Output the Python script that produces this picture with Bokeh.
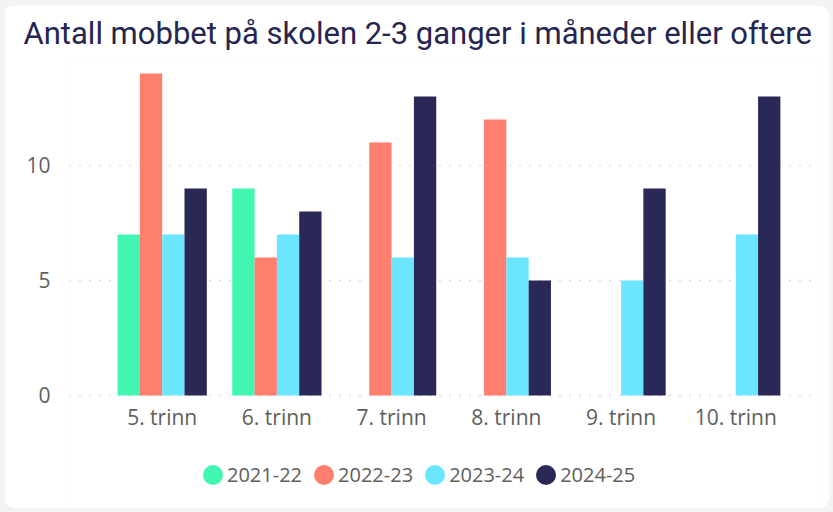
from bokeh.plotting import figure
from bokeh.models import ColumnDataSource, Range1d, FixedTicker, Legend, LegendItem
from bokeh.core.properties import value
from bokeh.transform import dodge
from bokeh.embed import file_html
from bokeh.resources import INLINE

nan = float("nan")

title_text = "Antall mobbet på skolen 2-3 ganger i måneder eller oftere"
categories = ["5. trinn", "6. trinn", "7. trinn", "8. trinn", "9. trinn", "10. trinn"]
series = ["2021-22", "2022-23", "2023-24", "2024-25"]
v_2021_22 = [7, 9, nan, nan, nan, nan]
v_2022_23 = [14, 6, 11, 12, nan, nan]
v_2023_24 = [7, 7, 6, 6, 5, 7]
v_2024_25 = [9, 8, 13, 5, 9, 13]
y_ticks = [0, 5, 10]

colors = ["#42F5B0", "#FF7F6F", "#6CE6FE", "#2A2857"]
values = [v_2021_22, v_2022_23, v_2023_24, v_2024_25]

idx = list(range(len(categories)))
data = {"x": idx, "cat": categories, "base": [0] * len(categories)}
for s, v in zip(series, values):
    data[s] = v
source = ColumnDataSource(data)

p = figure(width=825, height=503, output_backend="svg", toolbar_location=None,
           x_range=Range1d(-0.808, 5.73), y_range=Range1d(-4.913, 14.652),
           min_border_left=65, min_border_right=10, min_border_top=53, min_border_bottom=0)
p.background_fill_color = "white"
p.border_fill_color = "white"
p.outline_line_color = None
p.styles = {"border-radius": "10px", "overflow": "hidden"}

p.title.text = title_text
p.title.text_font = "Roboto"
p.title.text_font_size = "31px"
p.title.text_font_style = "normal"
p.title.text_color = "#252550"
p.title.align = "left"
p.title.vertical_align = "top"
p.title.offset = -46

w = 0.1945
offsets = [-1.5 * w, -0.5 * w, 0.5 * w, 1.5 * w]
for s, c, off in zip(series, colors, offsets):
    p.vbar(x=dodge("x", off, range=p.x_range), top=s, width=w, bottom=0,
           source=source, fill_color=c, line_color=None)

# category labels under the bars
p.text(x="x", y="base", text="cat", source=source, y_offset=22,
       text_align="center", text_baseline="middle",
       text_font=value("Open Sans"), text_font_size="21px", text_color="#605E5C")

items = []
for s, c in zip(series, colors):
    r = p.ellipse(x=[nan], y=[nan], width=20, height=20,
                  width_units="screen", height_units="screen",
                  fill_color=c, line_color=None)
    items.append(LegendItem(label=s, renderers=[r]))

legend = Legend(items=items, orientation="horizontal", location=(131, 20))
legend.glyph_width = 25
legend.glyph_height = 25
legend.label_standoff = 2
legend.spacing = 9
legend.padding = 0
legend.margin = 0
legend.border_line_color = None
legend.background_fill_alpha = 0
legend.label_text_font = "Open Sans"
legend.label_text_font_size = "20px"
legend.label_text_color = "#605E5C"
p.add_layout(legend, "center")

p.xaxis.visible = False
p.yaxis.ticker = FixedTicker(ticks=y_ticks)
ax = p.yaxis[0]
ax.axis_line_color = None
ax.major_tick_line_color = None
ax.minor_tick_line_color = None
ax.major_label_text_font = "Open Sans"
ax.major_label_text_font_size = "21px"
ax.major_label_text_color = "#605E5C"
ax.major_label_standoff = 13

p.xgrid.grid_line_color = None
p.ygrid.ticker = FixedTicker(ticks=y_ticks)
p.ygrid.grid_line_color = "#B8B8B8"
p.ygrid.grid_line_dash = "1 9"
p.ygrid.grid_line_width = 1.5

html = file_html(p, INLINE)
html = html.replace("</head>", "<style>html {background:#f3f3f3;} body {background:#f3f3f3; padding:5px 4px 4px 4px;}</style></head>", 1)
open("out.html", "w").write(html)
